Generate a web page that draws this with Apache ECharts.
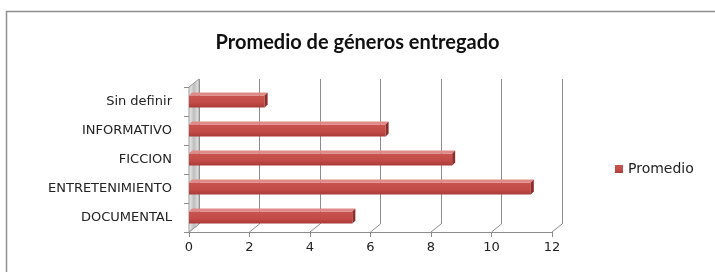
<!DOCTYPE html>
<html><head><meta charset="utf-8">
<script src="https://cdn.jsdelivr.net/npm/echarts@6/dist/echarts.min.js"></script>
<style>html,body{margin:0;padding:0;background:#fff}#c{width:715px;height:272px}</style>
</head><body><div id="c"></div>
<script>
const categories = ['DOCUMENTAL', 'ENTRETENIMIENTO', 'FICCION', 'INFORMATIVO', 'Sin definir'];
const promedio = [5.4, 11.3, 8.7, 6.5, 2.5];
const xTicks = [0, 2, 4, 6, 8, 10, 12];
const seriesName = 'Promedio';
const title = 'Promedio de géneros entregado';

const DEPTH_X = 10, DEPTH_Y = 8, BAR_D = 3, BAR_W = 12;
const chart = echarts.init(document.getElementById('c'), null, {renderer: 'canvas'});
chart.setOption({
  animation: false,
  backgroundColor: '#fff',
  title: {text: title, left: 'center', top: 28,
    textStyle: {fontFamily: 'Lato', fontWeight: 'bold', fontSize: 20, color: '#111'}},
  legend: {data: [seriesName], left: 610, top: 157, itemWidth: 8, itemHeight: 8, itemGap: 5,
    icon: 'rect', textStyle: {fontFamily: 'DejaVu Sans', fontSize: 14, color: '#222'}},
  grid: [
    {left: 189, right: 163, top: 87, bottom: 40},
    {left: 199, right: 153, top: 79, bottom: 48}
  ],
  xAxis: [
    {gridIndex: 0, type: 'value', min: 0, max: 12, interval: 2,
     axisLine: {show: true, lineStyle: {color: '#8c8c8c'}},
     axisTick: {show: true, length: 5, lineStyle: {color: '#8c8c8c'}},
     axisLabel: {margin: 9, fontFamily: 'DejaVu Sans', fontSize: 13, color: '#222',
       formatter: v => xTicks.includes(v) ? String(v) : ''},
     splitLine: {show: false}},
    {gridIndex: 1, type: 'value', min: 0, max: 12, interval: 2,
     axisLine: {show: false}, axisTick: {show: false}, axisLabel: {show: false},
     splitLine: {show: true, lineStyle: {color: '#8c8c8c', width: 1}}}
  ],
  yAxis: [
    {gridIndex: 0, type: 'category', data: categories,
     axisLine: {show: true, lineStyle: {color: '#8c8c8c'}},
     axisTick: {show: true, length: 5, lineStyle: {color: '#8c8c8c'}},
     axisLabel: {margin: 17, fontFamily: 'DejaVu Sans', fontSize: 13, color: '#222'}},
    {gridIndex: 1, type: 'category', data: categories, show: false}
  ],
  series: [
    { // left wall + floor connectors
      type: 'custom', xAxisIndex: 0, yAxisIndex: 0, silent: true, z: 1,
      data: xTicks.map(v => [v, 0]),
      encode: {x: 0, y: 1},
      renderItem: function (params, api) {
        const cs = params.coordSys;
        const x = api.coord([api.value(0), 0])[0];
        const yb = cs.y + cs.height;
        const children = [{type: 'line', shape: {x1: x, y1: yb, x2: x + DEPTH_X, y2: yb - DEPTH_Y},
          style: {stroke: '#8c8c8c', lineWidth: 1}}];
        if (params.dataIndex === 0) {
          children.push({type: 'polygon', shape: {points: [[cs.x, yb], [cs.x, cs.y], [cs.x + DEPTH_X, cs.y - DEPTH_Y], [cs.x + DEPTH_X, yb - DEPTH_Y]]},
            style: {fill: new echarts.graphic.LinearGradient(0, 0, 1, 0, [{offset: 0, color: '#f2f2f2'}, {offset: 0.5, color: '#bdbdbd'}, {offset: 1, color: '#eeeeee'}]), stroke: '#9a9a9a', lineWidth: 1}});
        }
        return {type: 'group', children: children};
      }
    },
    {
      name: seriesName, type: 'bar', xAxisIndex: 0, yAxisIndex: 0, barWidth: BAR_W, z: 3,
      data: promedio,
      itemStyle: {color: new echarts.graphic.LinearGradient(0, 0, 0, 1, [
        {offset: 0, color: '#c9534f'}, {offset: 0.6, color: '#c24b47'}, {offset: 1, color: '#a93a37'}])}
    },
    { // 3D top and end faces of bars
      type: 'custom', xAxisIndex: 0, yAxisIndex: 0, silent: true, z: 4,
      data: promedio.map((v, i) => [v, i]),
      encode: {x: 0, y: 1},
      renderItem: function (params, api) {
        const p0 = api.coord([0, api.value(1)]);
        const p1 = api.coord([api.value(0), api.value(1)]);
        const y0 = p1[1] - BAR_W / 2, y1 = p1[1] + BAR_W / 2;
        const x0 = p0[0], x1 = p1[0];
        return {type: 'group', children: [
          {type: 'polygon', shape: {points: [[x0, y0], [x0 + BAR_D, y0 - BAR_D], [x1 + BAR_D, y0 - BAR_D], [x1, y0]]},
           style: {fill: '#e08a87'}},
          {type: 'polygon', shape: {points: [[x1, y0], [x1 + BAR_D, y0 - BAR_D], [x1 + BAR_D, y1 - BAR_D], [x1, y1]]},
           style: {fill: '#8e2e2b'}}
        ]};
      }
    }
  ],
  graphic: [
    {type: 'polyline', silent: true, shape: {points: [[6.5, 272], [6.5, 11.5], [715, 11.5]]},
     style: {stroke: '#8f8f8f', lineWidth: 1.5, fill: null}}
  ]
});
</script></body></html>
